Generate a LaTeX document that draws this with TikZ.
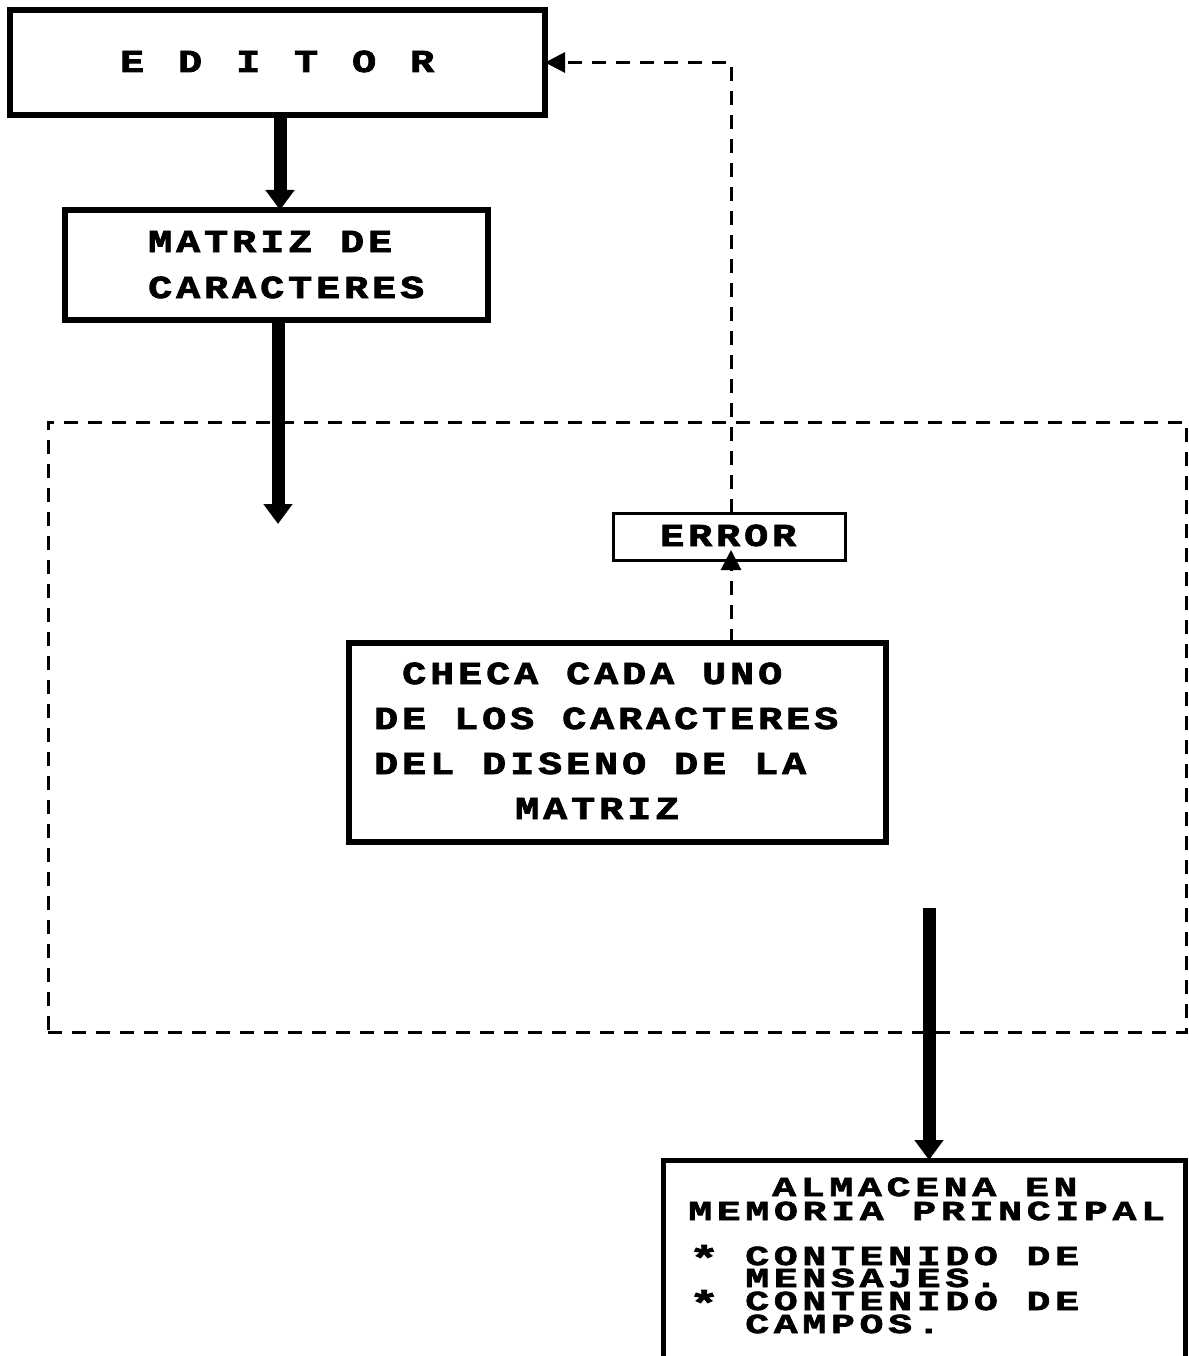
\documentclass[tikz,border=0pt]{standalone}
\usepackage{fontspec}
\usetikzlibrary{arrows.meta}
% heavy, wide monospaced lettering in a fixed character grid
\newfontfamily\dotfont{Liberation Mono}[FakeStretch=1.25,LetterSpace=12.5,FakeBold=2.5]
\newfontfamily\memfont{Liberation Mono}[FakeStretch=1.45,LetterSpace=17,FakeBold=2.5]
\newcommand\wideletter[1]{\makebox[58pt][l]{#1}}
\newcommand\bulletstar{\raisebox{-5pt}{\scalebox{1.25}{*}}}
\begin{document}
\begin{tikzpicture}[x=1pt,y=-1pt,
  box/.style={draw,line width=6pt,inner sep=0pt,outer sep=0pt},
  thinbox/.style={draw,line width=3pt,inner sep=0pt,outer sep=0pt},
  txt/.style={inner sep=0pt,anchor=base west,text height=21pt,text depth=0pt,
    font=\dotfont\bfseries\fontsize{32}{32}\selectfont},
  memtxt/.style={txt,text height=18pt,font=\memfont\bfseries\fontsize{27.5}{27.5}\selectfont},
  flow/.style={line width=13pt,-{Triangle[width=28pt,length=20pt]}},
  dashline/.style={line width=3pt,dash pattern=on 14pt off 10pt},
  dashtip/.style={-{Triangle[width=20pt,length=20pt]}}]
\useasboundingbox (0,0) rectangle (1188,1356);
\fill[white] (0,0) rectangle (1188,1356);

% dashed frame around the checking stage
\node[draw,dashline,inner sep=0pt,minimum width=1138pt,minimum height=610pt] (zone) at (617,727) {};

% boxes
\node[box,minimum width=535pt,minimum height=105pt] (editor) at (277.5,62.5) {};
\node[box,minimum width=423pt,minimum height=110pt] (matriz) at (276.5,265) {};
\node[thinbox,fill=white,minimum width=232pt,minimum height=47pt] (err) at (729,536.5) {};
\node[box,minimum width=537pt,minimum height=199pt] (checa) at (617.5,742.5) {};
\node[draw,line width=5pt,inner sep=0pt,outer sep=0pt,minimum width=522pt,minimum height=240pt] (mem) at (924,1280) {};

% texts
\node[txt] (tEditor) at (120,72) {\wideletter{E}\wideletter{D}\wideletter{I}\wideletter{T}\wideletter{O}R};
\node[txt] (tMat1) at (148,252) {MATRIZ DE};
\node[txt] (tMat2) at (148,298) {CARACTERES};
\node[txt] (tErr) at (660,546) {ERROR};
\node[txt] (tChk1) at (402,684) {CHECA CADA UNO};
\node[txt] (tChk2) at (374,729) {DE LOS CARACTERES};
\node[txt] (tChk3) at (374,774) {DEL DISENO DE LA};
\node[txt] (tChk4) at (515,819) {MATRIZ};
\node[memtxt] (tMem1) at (772,1196) {ALMACENA EN};
\node[memtxt] (tMem2) at (688,1220) {MEMORIA PRINCIPAL};
\node[memtxt] (tMem3) at (689,1265) {\bulletstar};
\node[memtxt] (tMem4) at (745,1265) {CONTENIDO DE};
\node[memtxt] (tMem5) at (745,1287) {MENSAJES.};
\node[memtxt] (tMem6) at (689,1310) {\bulletstar};
\node[memtxt] (tMem7) at (745,1310) {CONTENIDO DE};
\node[memtxt] (tMem8) at (745,1333) {CAMPOS.};

% free ends of the thick flows
\coordinate (inEnd) at (278,524);
\coordinate (outStart) at (929,908);

% main flow
\draw[flow] (editor.south -| 280,0) -- (matriz.north -| 280,0);
\draw[flow] (matriz.south -| 278,0) -- (inEnd);
\draw[flow] (outStart) -- (mem.north -| outStart);

% error feedback
\draw[dashline,dashtip] (checa.north -| 731,0) -- ([yshift=10pt]err.south -| 731,0);
\draw[dashline,dashtip] (err.north -| 731,0) |- (editor.east);
\end{tikzpicture}
\end{document}
